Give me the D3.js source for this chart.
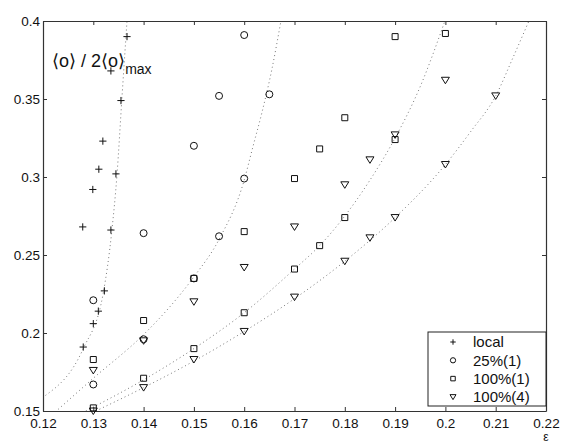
<!DOCTYPE html>
<html>
<head>
<meta charset="utf-8">
<script src="https://cdn.jsdelivr.net/npm/d3@7"></script>
<style>
  body { margin: 0; background: #fff; }
  text { font-family: "Liberation Sans", Arial, "DejaVu Sans", sans-serif; fill: #111; }
</style>
</head>
<body>
<div id="chart"></div>
<script>
const localX = [0.1367, 0.1335, 0.1355, 0.1319, 0.1311, 0.1345, 0.1299, 0.1279, 0.1335, 0.1322, 0.131, 0.130, 0.128];
const localY = [0.390, 0.368, 0.349, 0.323, 0.305, 0.302, 0.292, 0.268, 0.266, 0.227, 0.214, 0.206, 0.191];

const c25X = [0.16, 0.155, 0.165, 0.15, 0.14, 0.16, 0.155, 0.15, 0.13, 0.14, 0.13];
const c25Y = [0.391, 0.352, 0.353, 0.320, 0.264, 0.299, 0.262, 0.235, 0.221, 0.196, 0.167];

const s100X = [0.19, 0.20, 0.18, 0.175, 0.19, 0.17, 0.18, 0.16, 0.175, 0.17, 0.15, 0.16, 0.14, 0.13, 0.15, 0.14, 0.13];
const s100Y = [0.390, 0.392, 0.338, 0.318, 0.324, 0.299, 0.274, 0.265, 0.256, 0.241, 0.235, 0.213, 0.208, 0.183, 0.190, 0.171, 0.152];

const t100X = [0.20, 0.21, 0.19, 0.185, 0.18, 0.20, 0.19, 0.185, 0.18, 0.17, 0.16, 0.17, 0.16, 0.15, 0.15, 0.14, 0.13, 0.13, 0.14];
const t100Y = [0.362, 0.352, 0.327, 0.311, 0.295, 0.308, 0.274, 0.261, 0.246, 0.268, 0.242, 0.223, 0.201, 0.220, 0.183, 0.165, 0.176, 0.150, 0.195];

// dotted fit curves, sampled from the figure
const fitLocalX = [0.1205, 0.128, 0.132, 0.1337, 0.1347, 0.1357, 0.1367];
const fitLocalY = [0.160, 0.190, 0.226, 0.266, 0.301, 0.351, 0.400];
const fit25X = [0.123, 0.13, 0.14, 0.145, 0.15, 0.155, 0.16, 0.1617, 0.1635, 0.1655, 0.1673];
const fit25Y = [0.151, 0.171, 0.199, 0.216, 0.236, 0.260, 0.298, 0.319, 0.341, 0.369, 0.400];
const fit100X = [0.1285, 0.14, 0.15, 0.16, 0.17, 0.175, 0.18, 0.185, 0.19, 0.195, 0.1999];
const fit100Y = [0.150, 0.170, 0.190, 0.213, 0.241, 0.256, 0.275, 0.298, 0.325, 0.358, 0.400];
const fit4X = [0.1305, 0.14, 0.15, 0.16, 0.17, 0.18, 0.19, 0.20, 0.205, 0.21, 0.2135, 0.2166];
const fit4Y = [0.150, 0.165, 0.182, 0.201, 0.222, 0.246, 0.274, 0.308, 0.329, 0.352, 0.377, 0.400];

const xTicks = [0.12, 0.13, 0.14, 0.15, 0.16, 0.17, 0.18, 0.19, 0.2, 0.21, 0.22];
const yTicks = [0.15, 0.2, 0.25, 0.3, 0.35, 0.4];
const legendLabels = ["local", "25%(1)", "100%(1)", "100%(4)"];

const svgWidth = 562;
const svgHeight = 444;
const margin = { top: 21, right: 16, bottom: 33, left: 43 };
const width = svgWidth - margin.left - margin.right;
const height = svgHeight - margin.top - margin.bottom;

const svg = d3.select("#chart").append("svg")
  .attr("width", svgWidth)
  .attr("height", svgHeight);

const chart = svg.append("g")
  .attr("transform", `translate(${margin.left},${margin.top})`);

const x = d3.scaleLinear().domain([0.12, 0.22]).range([0, width]);
const y = d3.scaleLinear().domain([0.15, 0.4]).range([height, 0]);

// marker shapes, relative to the point
function markerPath(type, k) {
  if (type === "plus") { const s = 3.6 * k; return `M${-s},0H${s}M0,${-s}V${s}`; }
  if (type === "circle") { const r = 3.5 * k; return `M${r},0A${r},${r} 0 1,1 ${-r},0A${r},${r} 0 1,1 ${r},0Z`; }
  if (type === "square") { const s = 3 * k; return `M${-s},${-s}H${s}V${s}H${-s}Z`; }
  const w = 4 * k, h = 3 * k;
  return `M${-w},${-h}H${w}L0,${h + 0.5}Z`;
}

const series = [
  { type: "plus", xs: localX, ys: localY, fx: fitLocalX, fy: fitLocalY },
  { type: "circle", xs: c25X, ys: c25Y, fx: fit25X, fy: fit25Y },
  { type: "square", xs: s100X, ys: s100Y, fx: fit100X, fy: fit100Y },
  { type: "triangle", xs: t100X, ys: t100Y, fx: fit4X, fy: fit4Y }
];

// dotted fits
const line = d3.line()
  .x(d => x(d[0]))
  .y(d => y(d[1]))
  .curve(d3.curveMonotoneX);

chart.selectAll(".fit")
  .data(series)
  .enter()
  .append("path")
  .attr("class", "fit")
  .attr("d", d => line(d.fx.map((v, i) => [v, d.fy[i]])))
  .attr("fill", "none")
  .attr("stroke", "#777")
  .attr("stroke-width", 1)
  .attr("stroke-dasharray", "1,3");

// axes box with inward ticks on all sides
const tickLen = 4;
chart.append("g")
  .attr("transform", `translate(0,${height})`)
  .call(d3.axisBottom(x).tickValues(xTicks).tickSizeInner(-tickLen).tickSizeOuter(0).tickPadding(7)
    .tickFormat(d => String(+d.toFixed(2))));
chart.append("g")
  .call(d3.axisTop(x).tickValues(xTicks).tickSizeInner(-tickLen).tickSizeOuter(0).tickFormat(""));
chart.append("g")
  .call(d3.axisLeft(y).tickValues(yTicks).tickSizeInner(-tickLen).tickSizeOuter(0).tickPadding(3)
    .tickFormat(d => String(+d.toFixed(2))));
chart.append("g")
  .attr("transform", `translate(${width},0)`)
  .call(d3.axisRight(y).tickValues(yTicks).tickSizeInner(-tickLen).tickSizeOuter(0).tickFormat(""));

chart.selectAll(".domain").attr("stroke", "#333").attr("stroke-width", 1.2);
chart.selectAll(".tick line").attr("stroke", "#333");
chart.selectAll(".tick text").attr("font-size", 13.5).attr("fill", "#111")
  .attr("font-family", "'Liberation Sans', Arial, sans-serif");

// markers
series.forEach(s => {
  chart.selectAll(null)
    .data(s.xs.map((v, i) => [v, s.ys[i]]))
    .enter()
    .append("path")
    .attr("transform", d => `translate(${x(d[0])},${y(d[1])})`)
    .attr("d", markerPath(s.type, 1))
    .attr("fill", "none")
    .attr("stroke", "#111")
    .attr("stroke-width", 1);
});

// label inside the plot
const lab = chart.append("text")
  .attr("x", 9)
  .attr("y", 46)
  .attr("font-size", 18);
lab.append("tspan").text("\u27E8o\u27E9 / 2\u27E8o\u27E9");
lab.append("tspan").attr("dy", 7).attr("font-size", 14).text("max");

svg.append("text")
  .attr("x", margin.left + width)
  .attr("y", svgHeight - 3)
  .attr("text-anchor", "middle")
  .attr("font-size", 12)
  .text("\u03B5");

// legend
const legW = 118, legH = 74, rowH = 18.3;
const legend = chart.append("g")
  .attr("transform", `translate(${width - legW},${height - legH - 5})`);
legend.append("rect")
  .attr("width", legW)
  .attr("height", legH)
  .attr("fill", "#fff")
  .attr("stroke", "#222")
  .attr("stroke-width", 1);
const rows = legend.selectAll(".row")
  .data(series)
  .enter()
  .append("g")
  .attr("transform", (d, i) => `translate(0,${10 + i * rowH})`);
rows.append("path")
  .attr("transform", "translate(25,0)")
  .attr("d", d => markerPath(d.type, 0.75))
  .attr("fill", "none")
  .attr("stroke", "#111");
rows.append("text")
  .attr("x", 45)
  .attr("dy", "0.36em")
  .attr("font-size", 15)
  .text((d, i) => legendLabels[i]);
</script>
</body>
</html>
